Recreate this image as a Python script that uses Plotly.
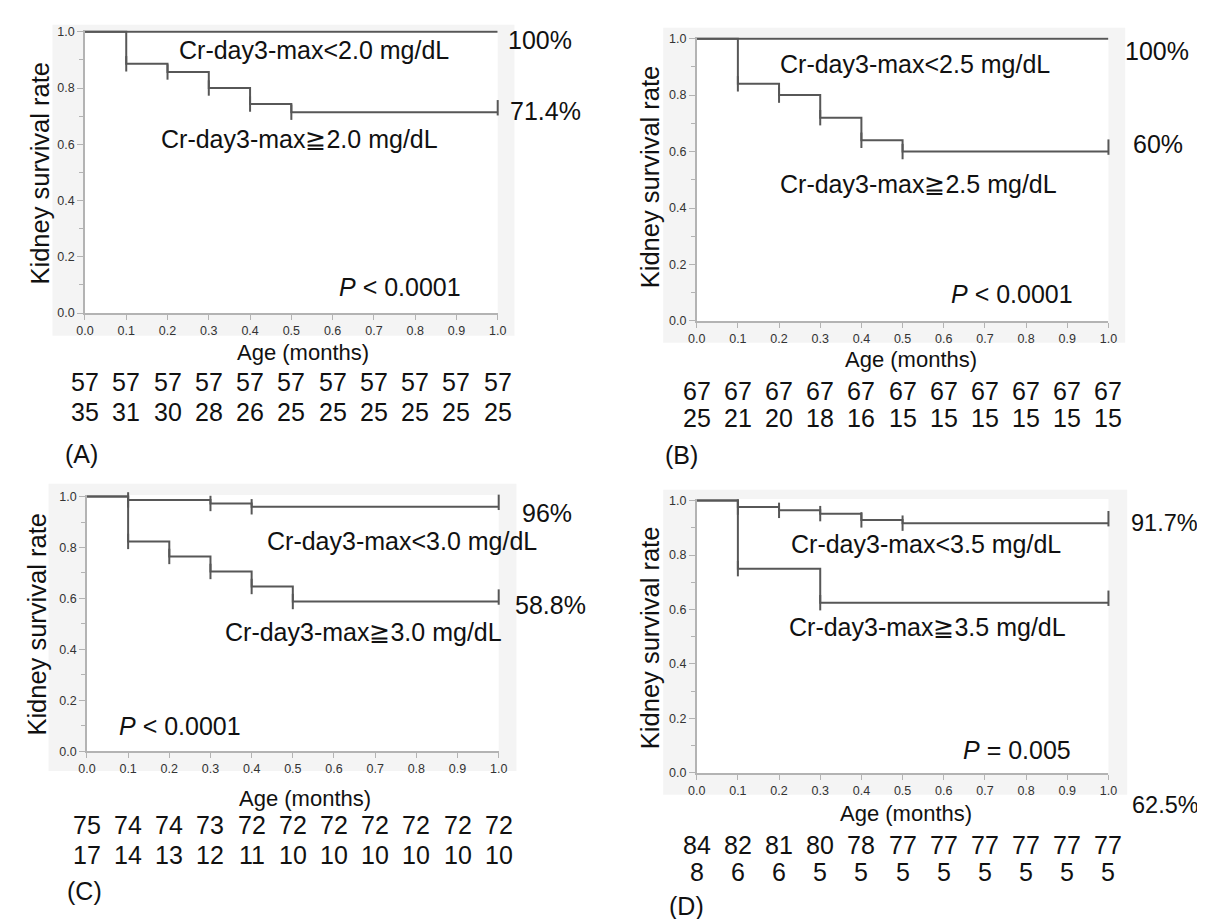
import plotly.graph_objects as go

W, H = 1205, 919
FONT = "Liberation Sans, Arial, Helvetica, sans-serif"

# ---------------- data ----------------
time_ticks = [0.0, 0.1, 0.2, 0.3, 0.4, 0.5, 0.6, 0.7, 0.8, 0.9, 1.0]

# Panel A (threshold 2.0 mg/dL)
A_low_t = []
A_low_s = []
A_high_t = [0.1, 0.2, 0.3, 0.4, 0.5]
A_high_s = [0.886, 0.857, 0.800, 0.743, 0.714]
A_risk_low = [57, 57, 57, 57, 57, 57, 57, 57, 57, 57, 57]
A_risk_high = [35, 31, 30, 28, 26, 25, 25, 25, 25, 25, 25]
A_labels = ["Cr-day3-max&lt;2.0 mg/dL", "Cr-day3-max≧2.0 mg/dL", "100%", "71.4%", "<i>P</i> &lt; 0.0001", "(A)"]

# Panel B (threshold 2.5 mg/dL)
B_low_t = []
B_low_s = []
B_high_t = [0.1, 0.2, 0.3, 0.4, 0.5]
B_high_s = [0.84, 0.80, 0.72, 0.64, 0.60]
B_risk_low = [67, 67, 67, 67, 67, 67, 67, 67, 67, 67, 67]
B_risk_high = [25, 21, 20, 18, 16, 15, 15, 15, 15, 15, 15]
B_labels = ["Cr-day3-max&lt;2.5 mg/dL", "Cr-day3-max≧2.5 mg/dL", "100%", "60%", "<i>P</i> &lt; 0.0001", "(B)"]

# Panel C (threshold 3.0 mg/dL)
C_low_t = [0.1, 0.3, 0.4]
C_low_s = [0.987, 0.973, 0.960]
C_high_t = [0.1, 0.2, 0.3, 0.4, 0.5]
C_high_s = [0.824, 0.765, 0.706, 0.647, 0.588]
C_risk_low = [75, 74, 74, 73, 72, 72, 72, 72, 72, 72, 72]
C_risk_high = [17, 14, 13, 12, 11, 10, 10, 10, 10, 10, 10]
C_labels = ["Cr-day3-max&lt;3.0 mg/dL", "Cr-day3-max≧3.0 mg/dL", "96%", "58.8%", "<i>P</i> &lt; 0.0001", "(C)"]

# Panel D (threshold 3.5 mg/dL)
D_low_t = [0.1, 0.2, 0.3, 0.4, 0.5]
D_low_s = [0.976, 0.964, 0.952, 0.929, 0.917]
D_high_t = [0.1, 0.3]
D_high_s = [0.75, 0.625]
D_risk_low = [84, 82, 81, 80, 78, 77, 77, 77, 77, 77, 77]
D_risk_high = [8, 6, 6, 5, 5, 5, 5, 5, 5, 5, 5]
D_labels = ["Cr-day3-max&lt;3.5 mg/dL", "Cr-day3-max≧3.5 mg/dL", "91.7%", "62.5%", "<i>P</i> = 0.005", "(D)"]

data = [
    (A_low_t, A_low_s, A_high_t, A_high_s, A_risk_low, A_risk_high, A_labels),
    (B_low_t, B_low_s, B_high_t, B_high_s, B_risk_low, B_risk_high, B_labels),
    (C_low_t, C_low_s, C_high_t, C_high_s, C_risk_low, C_risk_high, C_labels),
    (D_low_t, D_low_s, D_high_t, D_high_s, D_risk_low, D_risk_high, D_labels),
]

# ---------------- layout (pixel geometry) ----------------
plot_px = [(69, 488, 19, 304), (690, 1108, 26, 312), (71, 489, 490, 748), (690, 1108, 494, 770)]
grey_px = [(36, 12, 505, 327), (656, 15, 1125, 334), (32, 477, 507, 768), (656, 483, 1127, 792)]
label_px = [
    [(302, 37), (287, 128), (496, 27), (498, 99), (389, 278), (65, 447)],
    [(912, 52), (915, 173), (1123, 38), (1131, 133), (1010, 285), (675, 448)],
    [(391, 535), (352, 627), (511, 507), (504, 600), (165, 722), (69, 890)],
    [(923, 538), (924, 622), (1129, 517), (1130, 802), (1015, 747), (680, 905)],
]
label_size = [
    [25, 25, 25, 25, 25, 25],
    [25, 25, 25, 25, 25, 25],
    [25, 25, 25, 25, 25, 25],
    [25, 25, 23.5, 23.5, 25, 25],
]
label_anchor = ["center", "center", "left", "left", "center", "center"]
age_px = [(290, 344), (908, 351), (292, 796), (902, 811)]
risk_rows_px = [(374, 404), (383, 410), (823, 853), (843, 870)]
ytitle_px = [(23, 162), (642, 166), (20, 619), (642, 633)]

LINE_COL = "#575757"
AXIS_COL = "#b3b3b3"
GREY = "#f4f4f4"
TXT = "#111111"
YTOP = 1.006


def px(xp, yp):
    return xp / W, 1 - yp / H


fig = go.Figure()
shapes = []
annotations = []

for i, (lt, ls, ht, hs, rlow, rhigh, labels) in enumerate(data):
    k = i + 1
    xa = "x" if k == 1 else f"x{k}"
    ya = "y" if k == 1 else f"y{k}"
    x0, x1, yt, yb = plot_px[i]
    hpx = yb - yt
    top_px = yt - (YTOP - 1) * hpx
    fig.update_layout(**{
        ("xaxis" if k == 1 else f"xaxis{k}"): dict(
            domain=[x0 / W, x1 / W], anchor=ya, range=[0, 1.0],
            tickvals=time_ticks, tickformat=".1f", ticks="outside", ticklen=5,
            tickcolor=AXIS_COL, tickwidth=1.2, showline=True, linecolor=AXIS_COL,
            linewidth=1.5, showgrid=False, zeroline=False,
            tickfont=dict(family=FONT, size=12.5, color="#333333")),
        ("yaxis" if k == 1 else f"yaxis{k}"): dict(
            domain=[1 - yb / H, 1 - top_px / H], anchor=xa, range=[0, YTOP],
            tickvals=[0, 0.2, 0.4, 0.6, 0.8, 1.0], tickformat=".1f", ticks="outside",
            ticklen=6, tickcolor=AXIS_COL, tickwidth=1.2, showline=True,
            linecolor=AXIS_COL, linewidth=1.5, showgrid=False, zeroline=False,
            minor=dict(tickvals=[0.1, 0.3, 0.5, 0.7, 0.9], ticks="outside", ticklen=4,
                       tickcolor=AXIS_COL, showgrid=False),
            tickfont=dict(family=FONT, size=12.5, color="#333333")),
    })

    gx0, gy0, gx1, gy1 = grey_px[i]
    a, b = px(gx0, gy1)
    c, d = px(gx1, gy0)
    shapes.append(dict(type="rect", xref="paper", yref="paper", x0=a, x1=c, y0=b, y1=d,
                       fillcolor=GREY, line=dict(width=0), layer="below"))
    shapes.append(dict(type="rect", xref=f"{xa} domain", yref=f"{ya} domain", x0=0, x1=1,
                       y0=0, y1=1, fillcolor="white", line=dict(width=0), layer="below"))

    tick_marker = dict(symbol="line-ns-open", size=11, color=LINE_COL,
                       line=dict(color=LINE_COL, width=2))
    for t, s in ((lt, ls), (ht, hs)):
        xs = [0.0] + t + [1.0]
        ys = [1.0] + s + [s[-1] if s else 1.0]
        fig.add_trace(go.Scatter(x=xs, y=ys, mode="lines", line=dict(shape="hv", color=LINE_COL, width=2),
                                 xaxis=xa, yaxis=ya, showlegend=False, hoverinfo="skip"))
        if t:
            fig.add_trace(go.Scatter(x=t, y=s, mode="markers", marker=tick_marker,
                                     xaxis=xa, yaxis=ya, showlegend=False, hoverinfo="skip",
                                     cliponaxis=False))
            shift = 4.5 / hpx
            fig.add_trace(go.Scatter(x=[1.0], y=[s[-1] + shift], mode="markers", marker=tick_marker,
                                     xaxis=xa, yaxis=ya, showlegend=False, hoverinfo="skip",
                                     cliponaxis=False))

    for j, (txt, (lx, ly)) in enumerate(zip(labels, label_px[i])):
        px_x, px_y = px(lx, ly)
        annotations.append(dict(text=txt, x=px_x, y=px_y, xref="paper", yref="paper",
                                xanchor=label_anchor[j], yanchor="middle", showarrow=False,
                                font=dict(family=FONT, size=label_size[i][j], color=TXT)))

    ax_, ay_ = px(*age_px[i])
    annotations.append(dict(text="Age (months)", x=ax_, y=ay_, xref="paper", yref="paper",
                            showarrow=False, xanchor="center", yanchor="middle",
                            font=dict(family=FONT, size=22, color=TXT)))
    tx_, ty_ = px(*ytitle_px[i])
    annotations.append(dict(text="Kidney survival rate", x=tx_, y=ty_, xref="paper", yref="paper",
                            showarrow=False, textangle=-90, xanchor="center", yanchor="middle",
                            font=dict(family=FONT, size=25.5, color=TXT)))

    r1, r2 = risk_rows_px[i]
    for row_vals, rpx in ((rlow, r1), (rhigh, r2)):
        for t, n in zip(time_ticks, row_vals):
            annotations.append(dict(text=str(n), x=t, y=1 - rpx / H, xref=xa, yref="paper",
                                    showarrow=False, xanchor="center", yanchor="middle",
                                    font=dict(family=FONT, size=25, color=TXT)))

fig.update_layout(width=W, height=H, autosize=False,
                  margin=dict(l=0, r=0, t=0, b=0),
                  paper_bgcolor="white", plot_bgcolor="rgba(0,0,0,0)",
                  shapes=shapes, annotations=annotations, showlegend=False)

fig.write_html("out.html")
